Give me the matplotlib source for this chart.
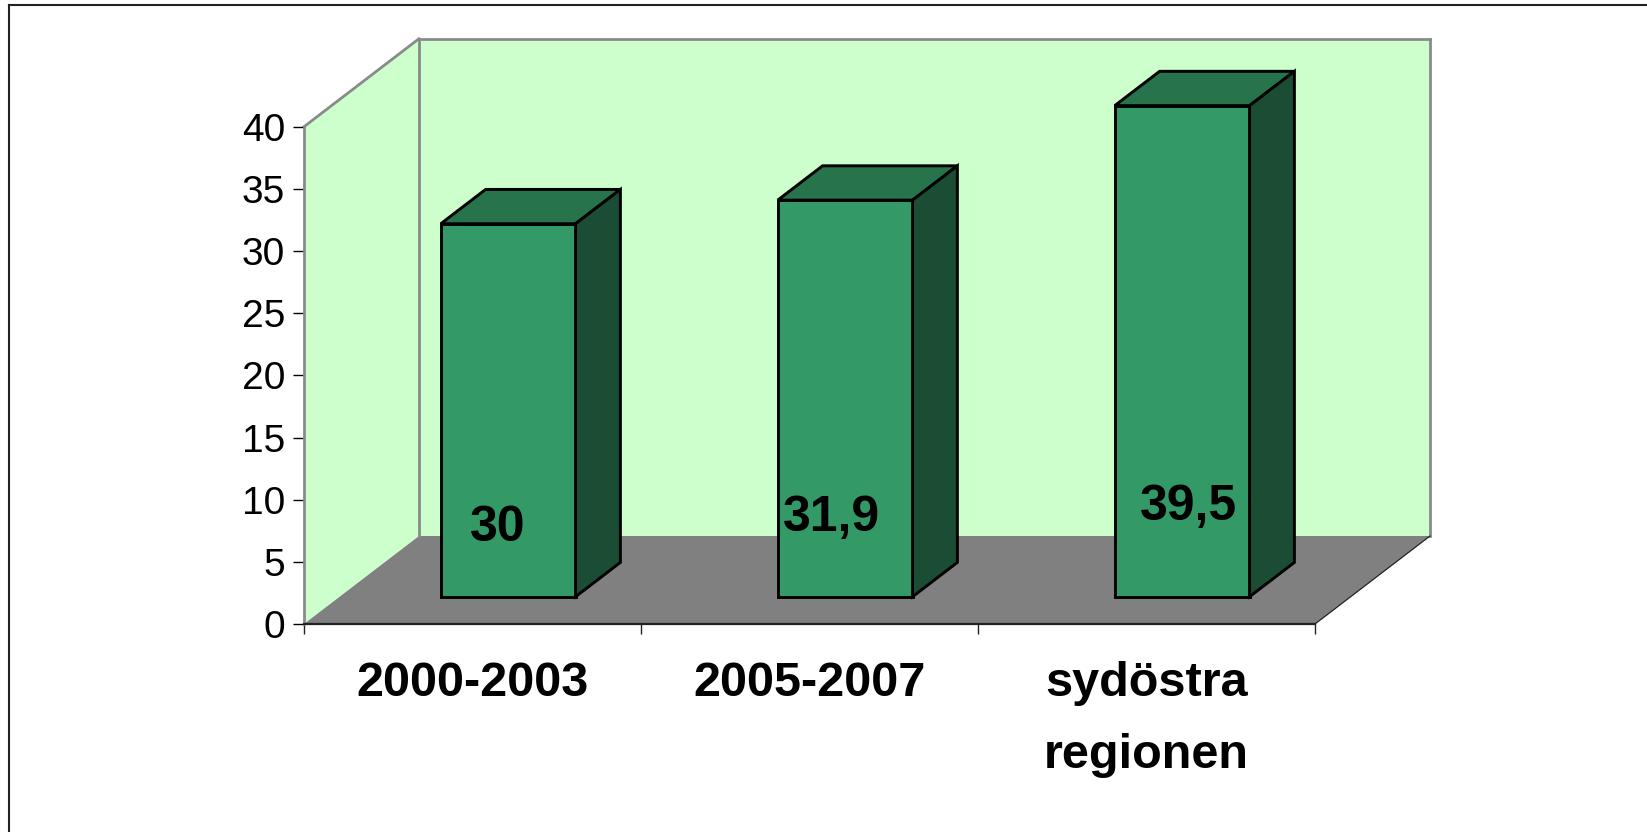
"""
3D-stapeldiagram i Excel-stil: tre kategorier, värden som etikett på varje stapel.
Ritas som sned (oblique) projektion i en vanlig 2D-axel.
"""
import matplotlib
matplotlib.use('Agg')
import matplotlib.pyplot as plt
from matplotlib.patches import Polygon
from matplotlib.lines import Line2D

plt.rcParams['font.family'] = ['Liberation Sans', 'DejaVu Sans']

# --- data ---
categories = ['2000-2003', '2005-2007', 'sydöstra\nregionen']
values = [30, 31.9, 39.5]
value_labels = ['30', '31,9', '39,5']
y_ticks = [0, 5, 10, 15, 20, 25, 30, 35, 40]

# --- stil ---
_FIG_W_PX, _FIG_H_PX = 1647, 832
_DPI = 100
_AX_LEFT_PX, _AX_RIGHT_PX = 304, 1315      # frontplanets x-område
_AX_BOTTOM_PX, _AX_TOP_PX = 624, 126.7     # y för 0 resp. 40 (räknat uppifrån)
_DEPTH_PX = (115, 88)                       # djupvektor för hela lådan
_BAR_WIDTH = 0.4
_BAR_Z = (0.31, 0.70)                       # stapelns djup-läge i lådan
_LABEL_DX = [-0.03, -0.04, 0.02]
_LABEL_V = [6.7, 7.5, 8.4]                  # baslinje, frontplanets y-skala

WALL = '#CCFFCC'
FLOOR = '#808080'
WALL_EDGE = '#8A8A8A'
BAR_FRONT = '#339966'
BAR_TOP = '#26734C'
BAR_SIDE = '#1A4D33'

fig = plt.figure(figsize=(_FIG_W_PX / _DPI, _FIG_H_PX / _DPI), dpi=_DPI)
fig.patch.set_facecolor('white')

ax_w = _AX_RIGHT_PX - _AX_LEFT_PX
ax_h = _AX_BOTTOM_PX - _AX_TOP_PX
ax = fig.add_axes([_AX_LEFT_PX / _FIG_W_PX, 1 - _AX_BOTTOM_PX / _FIG_H_PX,
                   ax_w / _FIG_W_PX, ax_h / _FIG_H_PX])
n = len(categories)
ymax = y_ticks[-1]
ax.set_xlim(0, n)
ax.set_ylim(0, ymax)
ax.patch.set_visible(False)

# djup i dataenheter
dx = _DEPTH_PX[0] * n / ax_w
dv = _DEPTH_PX[1] * ymax / ax_h


def proj(x, v, z):
    return (x + z * dx, v + z * dv)


def poly(pts, **kw):
    p = Polygon([proj(*q) for q in pts], closed=True, clip_on=False, **kw)
    ax.add_patch(p)
    return p


def seg(a, b, **kw):
    pa, pb = proj(*a), proj(*b)
    ax.add_line(Line2D([pa[0], pb[0]], [pa[1], pb[1]], clip_on=False, **kw))


# väggar och golv
poly([(0, 0, 0), (0, ymax, 0), (0, ymax, 1), (0, 0, 1)], facecolor=WALL, edgecolor='none', zorder=1)
poly([(0, 0, 1), (n, 0, 1), (n, ymax, 1), (0, ymax, 1)], facecolor=WALL, edgecolor='none', zorder=1)
poly([(0, 0, 0), (n, 0, 0), (n, 0, 1), (0, 0, 1)], facecolor=FLOOR, edgecolor='none', zorder=1.1)
for a, b in [((0, ymax, 0), (0, ymax, 1)), ((0, 0, 1), (0, ymax, 1)),
             ((0, ymax, 1), (n, ymax, 1)), ((n, 0, 1), (n, ymax, 1))]:
    seg(a, b, color=WALL_EDGE, lw=2.0, zorder=1.2, solid_capstyle='projecting')
seg((n, 0, 0), (n, 0, 1), color='#222222', lw=0.9, zorder=1.2)

# staplar
z0, z1 = _BAR_Z
for i, v in enumerate(values):
    x0 = i + 0.5 - _BAR_WIDTH / 2
    x1 = i + 0.5 + _BAR_WIDTH / 2
    kw = dict(edgecolor='black', linewidth=2.1, joinstyle='miter', zorder=3)
    poly([(x0, 0, z0), (x1, 0, z0), (x1, v, z0), (x0, v, z0)], facecolor=BAR_FRONT, **kw)
    poly([(x0, v, z0), (x1, v, z0), (x1, v, z1), (x0, v, z1)], facecolor=BAR_TOP, **kw)
    poly([(x1, 0, z0), (x1, 0, z1), (x1, v, z1), (x1, v, z0)], facecolor=BAR_SIDE, **kw)
    lx = proj(i + 0.5 + _LABEL_DX[i], 0, z0)[0]
    ax.text(lx, _LABEL_V[i], value_labels[i], ha='center', va='baseline',
            fontsize=36, fontweight='bold', color='black', zorder=5)

# axlar
for s in ['top', 'right']:
    ax.spines[s].set_visible(False)
ax.spines['left'].set_color(WALL_EDGE)
ax.spines['left'].set_linewidth(2.0)
ax.spines['bottom'].set_color('#222222')
ax.spines['bottom'].set_linewidth(1.6)
ax.spines['left'].set_zorder(2)
ax.spines['bottom'].set_zorder(2)

ax.set_yticks(y_ticks)
ax.set_yticklabels([str(t) for t in y_ticks])
ax.tick_params(axis='y', length=8, width=1.0, color='black', pad=5.5,
               labelsize=28, direction='out')

ax.set_xticks([i + 0.5 for i in range(n)])
ax.set_xticklabels(categories, fontsize=35, fontweight='bold', linespacing=1.75)
ax.set_xticks(list(range(n + 1)), minor=True)
ax.tick_params(axis='x', which='major', length=0, pad=27)
ax.tick_params(axis='x', which='minor', length=7.5, width=1.0, color='#222222', direction='out')

# diagramramen (vänster- och överkant syns)
fig.add_artist(Line2D([9 / _FIG_W_PX, 9 / _FIG_W_PX], [0, 1 - 5 / _FIG_H_PX],
                      transform=fig.transFigure, color='#222222', lw=1.5))
fig.add_artist(Line2D([9 / _FIG_W_PX, 1], [1 - 5 / _FIG_H_PX, 1 - 5 / _FIG_H_PX],
                      transform=fig.transFigure, color='#222222', lw=1.5))

fig.savefig('out.png', dpi=_DPI)
plt.close(fig)
